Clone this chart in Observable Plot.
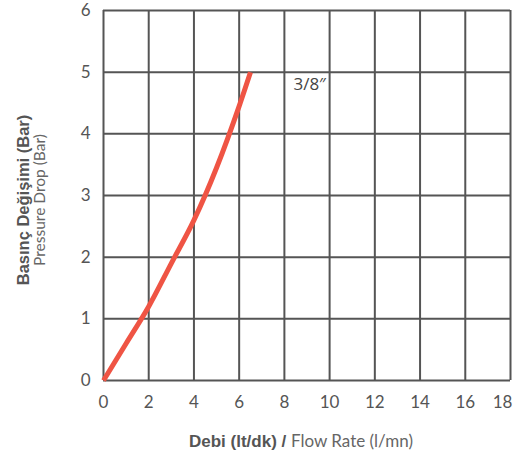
<!DOCTYPE html>
<html>
<head>
<meta charset="utf-8">
<script src="https://cdn.jsdelivr.net/npm/d3@7"></script>
<script src="https://cdn.jsdelivr.net/npm/@observablehq/plot@0.6"></script>
<style>
  body { margin: 0; background: #fff; }
  #chart svg { display: block; }
</style>
</head>
<body>
<div id="chart"></div>
<script>
// Data
const flowRate = [0, 1, 2, 3, 4, 5, 6, 6.5];          // l/min
const pressureDrop = [0, 0.6, 1.2, 1.9, 2.6, 3.45, 4.45, 5]; // bar
const xTicks = [0, 2, 4, 6, 8, 10, 12, 14, 16, 18];
const yTicks = [0, 1, 2, 3, 4, 5, 6];
const seriesLabel = ["3/8″"];
const seriesLabelPos = [{x: 8.4, y: 4.8}];
const xTitleBold = "Debi (lt/dk) / ";
const xTitleNormal = "Flow Rate (l/mn)";
const yTitleBold = "Basınç Değişimi (Bar)";
const yTitleNormal = "Pressure Drop (Bar)";

const curve = flowRate.map((x, i) => ({x, y: pressureDrop[i]}));
const labels = seriesLabel.map((t, i) => ({text: t, ...seriesLabelPos[i]}));
const lastX = xTicks[xTicks.length - 1];

const W = 515, H = 455;
const chart = Plot.plot({
  width: W,
  height: H,
  marginLeft: 103,
  marginRight: 5,
  marginTop: 10,
  marginBottom: 75,
  style: {fontFamily: "Lato, 'Open Sans', sans-serif", background: "#fff", fontSize: "17px"},
  x: {domain: [0, 18]},
  y: {domain: [0, 6]},
  marks: [
    Plot.ruleX(xTicks, {stroke: "#555", strokeWidth: 2}),
    Plot.ruleY(yTicks, {stroke: "#555", strokeWidth: 2}),
    Plot.axisX({ticks: xTicks.filter(d => d !== lastX), tickSize: 0, tickPadding: 15, fontSize: 17, fill: "#555", label: null, tickFormat: d3.format("d")}),
    Plot.axisX({ticks: [lastX], tickSize: 0, tickPadding: 15, dx: -8, fontSize: 17, fill: "#555", label: null, tickFormat: d3.format("d")}),
    Plot.axisY({ticks: yTicks, tickSize: 0, tickPadding: 13, fontSize: 17, fill: "#555", label: null, tickFormat: d3.format("d")}),
    Plot.line(curve, {x: "x", y: "y", stroke: "#ef5444", strokeWidth: 5, curve: "monotone-x", strokeLinecap: "butt"}),
    Plot.text(labels, {x: "x", y: "y", text: "text", textAnchor: "start", fontSize: 17, fill: "#444", fontFamily: "'Open Sans', sans-serif"})
  ]
});
document.getElementById("chart").appendChild(chart);

// Axis titles with mixed bold / normal weight
const svg = d3.select(chart);
const xt = svg.append("text")
  .attr("x", 301).attr("y", 447)
  .attr("text-anchor", "middle")
  .attr("font-size", 17)
  .attr("fill", "#555")
  .attr("font-family", "'Liberation Sans', Arial, sans-serif");
xt.append("tspan").attr("font-weight", "bold").text(xTitleBold);
xt.append("tspan").attr("font-family", "Lato, sans-serif").attr("font-weight", "normal").attr("fill", "#666").text(xTitleNormal);

svg.append("text")
  .attr("transform", "translate(29,200) rotate(-90)")
  .attr("text-anchor", "middle")
  .attr("font-size", 16.5)
  .attr("font-weight", "bold")
  .attr("fill", "#555")
  .attr("font-family", "'Liberation Sans', Arial, sans-serif")
  .text(yTitleBold);
svg.append("text")
  .attr("transform", "translate(45,200) rotate(-90)")
  .attr("text-anchor", "middle")
  .attr("font-size", 15.5)
  .attr("fill", "#666")
  .attr("font-family", "Lato, sans-serif")
  .text(yTitleNormal);
</script>
</body>
</html>
